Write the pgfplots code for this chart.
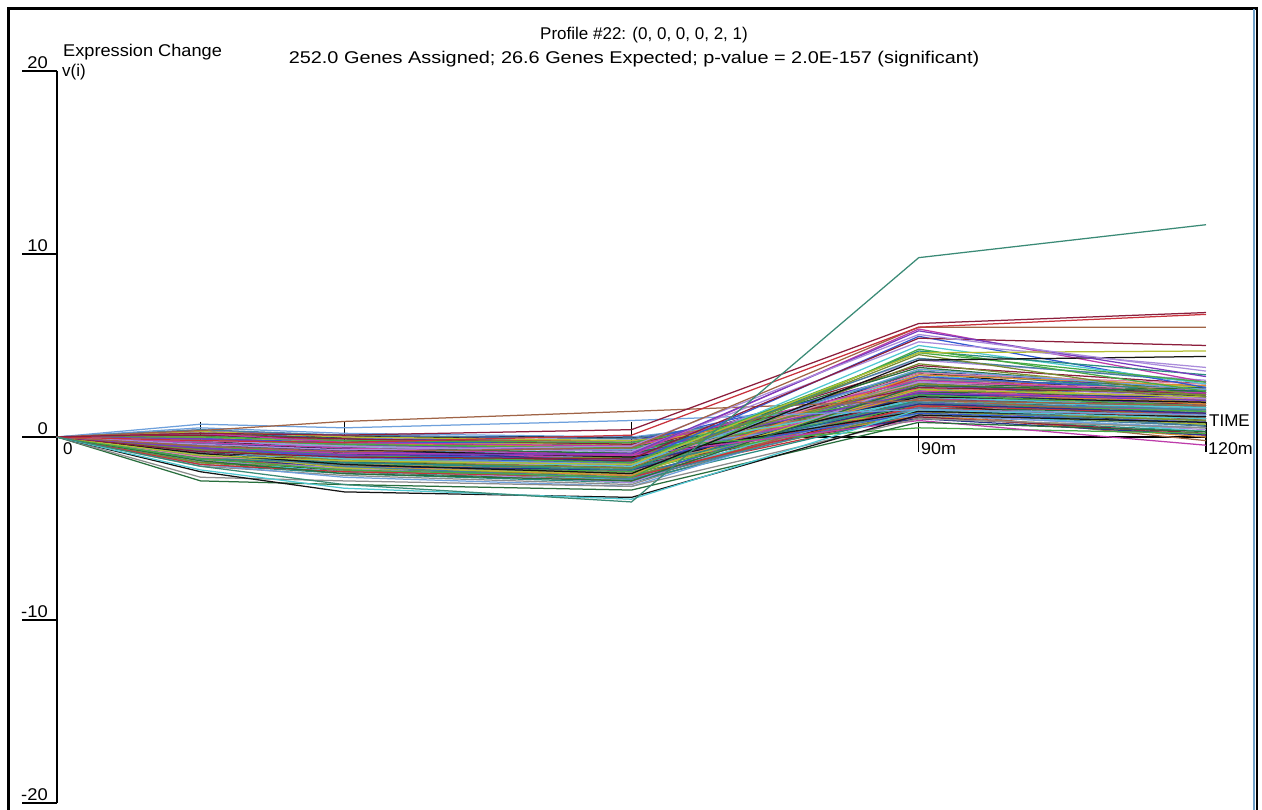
\documentclass[border=0pt]{standalone}
\usepackage{fontspec}
\setmainfont{Liberation Sans}
\usepackage{pgfplots}
\pgfplotsset{compat=1.18}
\definecolor{cR}{RGB}{200,50,60}
\definecolor{cG}{RGB}{70,170,70}
\definecolor{cB}{RGB}{50,90,210}
\definecolor{cM}{RGB}{190,60,170}
\definecolor{cC}{RGB}{80,200,210}
\definecolor{cO}{RGB}{220,140,50}
\definecolor{cP}{RGB}{120,60,190}
\definecolor{cY}{RGB}{180,190,50}
\definecolor{cK}{RGB}{20,20,20}
\definecolor{cT}{RGB}{40,140,130}
\definecolor{cBr}{RGB}{160,100,70}
\definecolor{cPk}{RGB}{220,130,170}
\definecolor{cN}{RGB}{40,50,140}
\definecolor{cL}{RGB}{110,160,220}
\definecolor{cDG}{RGB}{40,110,60}
\definecolor{cDR}{RGB}{140,30,60}
\definecolor{cS}{RGB}{70,130,160}
\definecolor{cGr}{RGB}{140,140,140}
\definecolor{cOl}{RGB}{120,140,50}
\definecolor{cLv}{RGB}{170,140,220}
\definecolor{cOut}{RGB}{58,138,118}
\definecolor{frameblue}{RGB}{110,160,200}
\newcommand\g[6]{\addplot[#1] coordinates {(0,0) (15,#2) (30,#3) (60,#4) (90,#5) (120,#6)};}
\begin{document}
\begin{tikzpicture}[every node/.style={font=\fontsize{17}{20}\selectfont, inner sep=0pt}]
\useasboundingbox (0,0) rectangle (1262pt,810pt);
\fill[white] (0,0) rectangle (1262pt,810pt);
% frame
\draw[line width=3pt, black] (8.5pt,0) -- (8.5pt,801.5pt) -- (1256pt,801.5pt);
\draw[line width=2pt, frameblue] (1254pt,801pt) -- (1254pt,0);
\draw[line width=2.5pt, black] (1257pt,803pt) -- (1257pt,0);
% y axis
\draw[line width=1.3pt] (57pt,739pt) -- (57pt,7pt);
\foreach \yy/\lab in {739/20, 556/10, 373/0, 190/-10, 7/-20}{
  \draw[line width=1.3pt] (57pt,\yy pt) -- (22pt,\yy pt);
  \node[anchor=south east, xscale=1.08] at (48pt,\yy pt+2pt) {\lab};
}
% x axis
\draw[line width=1.3pt] (57pt,373pt) -- (1206pt,373pt);
\foreach \xx in {200.6,344.3,631.5,918.8,1206}{
  \draw[line width=1.3pt] (\xx pt,388pt) -- (\xx pt,358pt);
}
\node[anchor=north west] at (63pt,368pt) {0};
\node[anchor=north west, xscale=1.05] at (921pt,368pt) {90m};
\node[anchor=north west, xscale=1.05] at (1208pt,368pt) {120m};
\node[anchor=west] at (1209pt,389pt) {TIME};
% labels
\node[anchor=base west, xscale=1.07] at (63pt,753pt) {Expression Change};
\node[anchor=base west] at (62pt,733pt) {v(i)};
\node[anchor=base] at (644pt,770pt) {Profile \#22: (0, 0, 0, 0, 2, 1)};
\node[anchor=base, xscale=1.17] at (634pt,746pt) {252.0 Genes Assigned; 26.6 Genes Expected; p-value = 2.0E-157 (significant)};
\begin{axis}[at={(57pt,7pt)}, anchor=south west, scale only axis,
  width=1149pt, height=732pt, xmin=0, xmax=120, ymin=-20, ymax=20,
  hide axis, clip=false,
  every axis plot/.append style={line width=1.25pt, mark=none}]
\g{cR}{-0.3}{-0.8}{-1.1}{2.4}{1.7}
\g{cG}{0.2}{-0.2}{-0.4}{1.9}{1.2}
\g{cB}{-0.7}{-1.2}{-1.6}{3.1}{2.3}
\g{cM}{-0.1}{-0.5}{-0.7}{1.4}{0.8}
\g{cC}{-0.9}{-1.4}{-1.9}{2.8}{2.0}
\g{cO}{-0.5}{-0.9}{-1.0}{2.0}{1.4}
\g{cP}{0.1}{-0.3}{-0.6}{3.5}{2.6}
\g{cY}{-1.2}{-1.7}{-2.2}{1.6}{0.9}
\g{cK}{-0.6}{-1.0}{-1.3}{2.6}{2.5}
\g{cT}{-0.2}{-0.6}{-0.9}{1.1}{0.3}
\g{cBr}{-1.0}{-1.3}{-1.4}{3.3}{2.1}
\g{cPk}{0.4}{0.0}{-0.3}{2.2}{1.5}
\g{cN}{-0.8}{-1.1}{-1.5}{2.9}{2.7}
\g{cL}{-0.4}{-0.7}{-1.2}{1.7}{1.0}
\g{cDG}{-1.4}{-1.9}{-2.4}{2.1}{1.3}
\g{cDR}{-0.3}{-0.4}{-0.8}{3.9}{2.9}
\g{cS}{0.0}{-0.5}{-0.5}{1.3}{0.6}
\g{cGr}{-0.6}{-1.3}{-1.7}{2.3}{1.8}
\g{cOl}{-1.1}{-1.5}{-2.0}{1.5}{0.7}
\g{cLv}{-0.2}{-0.9}{-1.0}{4.2}{3.1}
\g{cR}{-0.9}{-1.6}{-2.1}{1.2}{0.1}
\g{cG}{-0.5}{-0.8}{-1.4}{2.7}{1.9}
\g{cB}{0.3}{-0.1}{-0.2}{2.5}{2.2}
\g{cM}{-1.3}{-1.8}{-2.3}{3.0}{2.4}
\g{cC}{-0.7}{-1.0}{-1.1}{1.8}{1.1}
\g{cO}{-0.1}{-0.6}{-1.0}{3.2}{2.0}
\g{cP}{-1.0}{-1.4}{-1.8}{2.0}{1.6}
\g{cY}{-0.4}{-1.1}{-1.3}{1.0}{0.5}
\g{cK}{0.1}{-0.2}{-0.7}{2.3}{2.3}
\g{cT}{-1.5}{-2.0}{-2.5}{1.9}{1.0}
\g{cBr}{-0.8}{-1.2}{-1.6}{1.4}{-0.2}
\g{cPk}{-0.3}{-0.7}{-0.9}{2.8}{2.5}
\g{cN}{-0.6}{-0.9}{-1.2}{3.6}{2.6}
\g{cL}{-1.2}{-1.6}{-2.0}{2.5}{1.7}
\g{cDG}{0.2}{-0.1}{-0.5}{1.6}{1.3}
\g{cDR}{-0.5}{-1.0}{-1.5}{2.2}{0.9}
\g{cS}{-1.1}{-1.7}{-1.9}{3.1}{2.8}
\g{cGr}{-0.2}{-0.5}{-0.6}{1.9}{1.4}
\g{cOl}{-0.9}{-1.3}{-1.7}{4.0}{2.4}
\g{cLv}{-0.4}{-0.8}{-1.1}{1.3}{0.4}
\g{cR}{0.0}{-0.4}{-0.3}{2.6}{2.1}
\g{cG}{-1.4}{-1.8}{-2.2}{2.7}{2.0}
\g{cB}{-0.7}{-1.5}{-1.8}{2.4}{1.2}
\g{cM}{-0.3}{-0.6}{-1.3}{1.7}{1.5}
\g{cC}{-1.0}{-1.2}{-1.4}{3.4}{2.2}
\g{cO}{-0.6}{-1.1}{-1.6}{1.2}{0.0}
\g{cP}{0.3}{0.1}{-0.1}{2.1}{1.9}
\g{cY}{-0.8}{-1.4}{-2.0}{3.7}{2.7}
\g{cK}{-1.2}{-1.9}{-2.3}{1.8}{0.6}
\g{cT}{-0.1}{-0.3}{-0.8}{3.0}{1.8}
\g{cBr}{-0.5}{-0.7}{-1.0}{2.0}{2.2}
\g{cPk}{-1.3}{-1.6}{-2.1}{1.5}{1.1}
\g{cN}{-0.2}{-0.8}{-0.9}{2.5}{1.6}
\g{cL}{0.5}{0.2}{0.0}{1.8}{1.3}
\g{cDG}{-0.9}{-1.2}{-1.3}{2.9}{2.6}
\g{cDR}{-0.4}{-1.0}{-1.6}{1.1}{0.2}
\g{cS}{-0.7}{-0.9}{-1.4}{4.3}{3.0}
\g{cGr}{-1.6}{-2.1}{-2.6}{2.3}{1.4}
\g{cOl}{-0.3}{-0.5}{-0.7}{2.2}{1.0}
\g{cLv}{-1.1}{-1.4}{-1.5}{1.6}{0.8}
\g{cR}{-0.6}{-1.2}{-1.9}{3.3}{2.3}
\g{cG}{0.1}{-0.4}{-0.6}{1.4}{0.9}
\g{cB}{-1.0}{-1.7}{-2.2}{2.6}{2.4}
\g{cM}{-0.5}{-0.8}{-1.2}{2.1}{1.7}
\g{cC}{-0.2}{-0.7}{-1.0}{1.5}{0.3}
\g{cO}{-1.3}{-1.5}{-1.8}{2.4}{1.9}
\g{cP}{-0.8}{-1.3}{-1.7}{1.9}{1.2}
\g{cY}{0.0}{-0.3}{-0.4}{2.9}{2.0}
\g{cK}{-0.4}{-0.9}{-1.4}{3.5}{2.2}
\g{cT}{-1.1}{-1.6}{-2.4}{1.3}{0.7}
\g{cBr}{0.2}{-0.2}{-0.2}{1.7}{1.6}
\g{cPk}{-0.9}{-1.5}{-1.9}{2.7}{2.1}
\g{cN}{-0.6}{-0.7}{-1.1}{1.0}{0.1}
\g{cL}{-1.5}{-2.2}{-2.7}{2.2}{1.5}
\g{cDG}{-0.3}{-0.6}{-0.9}{3.8}{2.5}
\g{cDR}{-0.7}{-1.1}{-1.3}{2.0}{1.8}
\g{cS}{0.4}{0.1}{-0.1}{2.4}{1.4}
\g{cGr}{-1.2}{-1.5}{-2.0}{3.2}{2.6}
\g{cO}{-0.2}{-0.4}{-0.5}{2.6}{1.8}
\g{cC}{-1.3}{-1.9}{-2.3}{2.2}{1.6}
\g{cR}{-0.8}{-1.3}{-1.5}{1.6}{1.0}
\g{cB}{-0.1}{-0.3}{-0.3}{3.3}{2.5}
\g{cG}{-1.0}{-1.5}{-1.9}{1.8}{1.4}
\g{cPk}{-0.5}{-1.2}{-1.4}{3.0}{2.6}
\g{cN}{-1.2}{-1.6}{-1.8}{2.3}{2.2}
\g{cY}{0.3}{0.0}{-0.2}{1.3}{0.7}
\g{cM}{-0.9}{-1.1}{-1.7}{2.5}{2.0}
\g{cT}{-0.6}{-1.1}{-1.2}{3.6}{2.4}
\g{cOl}{-1.4}{-1.7}{-2.1}{1.4}{0.9}
\g{cS}{-0.3}{-1.0}{-1.2}{1.9}{1.5}
\g{cP}{-0.7}{-0.8}{-1.0}{2.8}{2.3}
\g{cBr}{-1.1}{-1.8}{-2.4}{2.1}{1.1}
\g{cL}{-0.2}{-0.6}{-0.7}{1.2}{0.5}
\g{cK}{-0.8}{-1.4}{-1.6}{2.2}{1.9}
\g{cDG}{-0.5}{-0.6}{-0.9}{2.4}{2.7}
\g{cLv}{-1.3}{-1.7}{-2.5}{3.0}{2.1}
\g{cDR}{0.1}{-0.1}{-0.4}{2.7}{2.4}
\g{cGr}{-0.4}{-1.2}{-1.5}{1.5}{1.2}
\g{cO}{-1.0}{-1.6}{-2.1}{3.4}{2.8}
\g{cC}{-0.3}{-0.5}{-0.8}{2.0}{1.6}
\g{cR}{-1.5}{-1.9}{-2.2}{1.7}{1.3}
\g{cB}{-0.6}{-1.0}{-1.2}{1.3}{0.8}
\g{cG}{0.0}{-0.2}{-0.3}{2.3}{1.7}
\g{cPk}{-1.1}{-1.3}{-1.6}{3.5}{2.9}
\g{cN}{-0.4}{-0.6}{-1.4}{1.8}{1.3}
\g{cY}{-0.9}{-1.7}{-2.0}{2.6}{2.2}
\g{cM}{0.2}{-0.3}{-0.5}{3.1}{2.4}
\g{cT}{-1.2}{-1.4}{-1.7}{2.0}{1.7}
\g{cS}{-0.9}{-1.6}{-2.3}{1.6}{0.6}
\g{cP}{-0.1}{-0.4}{-0.8}{2.4}{2.0}
\g{cOl}{-0.6}{-1.3}{-1.1}{2.9}{2.3}
\g{cL}{-1.0}{-1.1}{-1.5}{3.7}{2.6}
\g{cK}{-0.2}{-0.7}{-1.1}{1.4}{1.1}
\g{cDG}{-1.3}{-2.0}{-2.4}{2.8}{2.5}
\g{cG}{-0.2}{-0.4}{-0.6}{0.5}{0.2}
\g{cM}{-0.5}{-0.9}{-1.0}{0.9}{-0.45}
\g{cDG}{-2.4}{-2.6}{-2.9}{0.8}{0.3}
\g{cGr}{-2.2}{-2.4}{-2.7}{1.0}{0.5}
\g{cK}{-1.9}{-3.0}{-3.3}{1.2}{0.8}
\g{cC}{-1.8}{-2.8}{-3.4}{1.5}{1.0}
\g{cL}{0.7}{0.5}{0.9}{1.5}{1.2}
\g{cBr}{0.35}{0.85}{1.4}{2.0}{1.7}
\g{cM}{-0.3}{-0.6}{-1.0}{5.9}{3.0}
\g{cB}{-0.6}{-1.1}{-1.4}{5.5}{2.7}
\g{cLv}{-0.2}{-0.5}{-0.8}{5.2}{3.8}
\g{cC}{-0.8}{-1.2}{-1.6}{5.0}{2.9}
\g{cT}{-1.0}{-1.4}{-1.8}{4.7}{3.4}
\g{cG}{-1.2}{-1.8}{-2.2}{4.8}{2.5}
\g{cG}{-0.5}{-1.0}{-1.4}{4.6}{3.0}
\g{cOl}{-0.7}{-1.3}{-1.7}{4.5}{2.2}
\g{cK}{-0.9}{-1.5}{-2.0}{4.2}{4.4}
\g{cY}{-1.0}{-1.3}{-1.5}{4.6}{4.7}
\g{cDR}{-0.8}{-1.1}{-1.2}{5.4}{5.0}
\g{cP}{-0.6}{-1.0}{-0.9}{5.8}{3.3}
\g{cLv}{-0.4}{-0.7}{-0.5}{5.6}{3.6}
\g{cBr}{-0.5}{-0.8}{-0.6}{6.0}{6.0}
\g{cR}{-0.2}{-0.3}{0.1}{6.0}{6.7}
\g{cDR}{0.2}{0.1}{0.4}{6.2}{6.8}
\g{cOut}{-1.6}{-2.6}{-3.55}{9.8}{11.6}
\end{axis}
\end{tikzpicture}
\end{document}
